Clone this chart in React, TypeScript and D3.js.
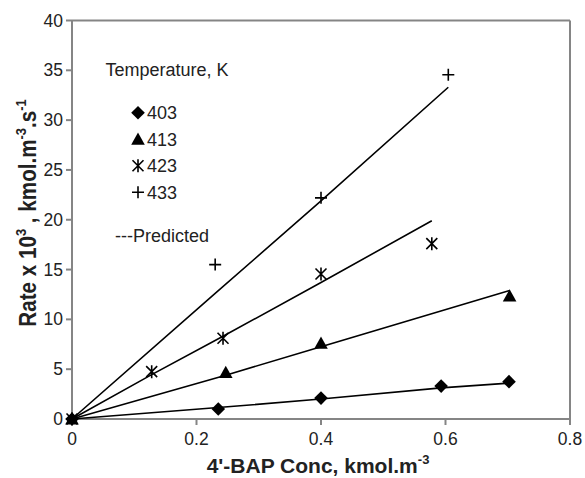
import React from "react";
import * as d3 from "d3";

const conc403 = [0, 0.235, 0.4, 0.593, 0.702];
const rate403 = [0, 1.0, 2.1, 3.3, 3.75];
const pred403 = [0, 1.15, 2.0, 3.12, 3.6];

const conc413 = [0, 0.247, 0.4, 0.703];
const rate413 = [0, 4.65, 7.6, 12.35];
const pred413 = [0, 4.4, 7.25, 12.9];

const conc423 = [0, 0.128, 0.2426, 0.4, 0.578];
const rate423 = [0, 4.75, 8.1, 14.55, 17.6];
const pred423 = [0, 4.45, 8.3, 13.7, 19.9];

const conc433 = [0, 0.23, 0.4, 0.6045];
const rate433 = [0, 15.5, 22.2, 34.55];
const pred433 = [0, 12.6, 21.9, 33.3];

const xTicks = [0, 0.2, 0.4, 0.6, 0.8];
const xTickLabels = ["0", "0.2", "0.4", "0.6", "0.8"];
const yTicks = [0, 5, 10, 15, 20, 25, 30, 35, 40];
const legendLabels = ["403", "413", "423", "433"];
const markerKinds = ["diamond", "triangle", "asterisk", "plus"];

const FONT = "'Liberation Sans', Arial, sans-serif";
const AXIS = "#858585";

function Marker({ kind, x, y }: { kind: string; x: number; y: number }) {
  if (kind === "diamond") {
    const s = 6.8;
    return <path d={`M${x},${y - s}L${x + s},${y}L${x},${y + s}L${x - s},${y}Z`} fill="#000" />;
  }
  if (kind === "triangle") {
    const s = 6.8;
    return <path d={`M${x},${y - s}L${x + s},${y + s * 0.8}L${x - s},${y + s * 0.8}Z`} fill="#000" />;
  }
  if (kind === "asterisk") {
    const s = 5.5;
    return (
      <path
        d={`M${x - s},${y - s}L${x + s},${y + s}M${x + s},${y - s}L${x - s},${y + s}M${x},${y - s - 1}L${x},${y + s + 1}`}
        stroke="#000"
        strokeWidth={1.6}
        fill="none"
      />
    );
  }
  const s = 6;
  return <path d={`M${x - s},${y}L${x + s},${y}M${x},${y - s}L${x},${y + s}`} stroke="#000" strokeWidth={1.6} fill="none" />;
}

export default function App() {
  const W = 585;
  const H = 478;
  const x = d3.scaleLinear().domain([0, 0.8]).range([72, 570]);
  const y = d3.scaleLinear().domain([0, 40]).range([419, 20.5]);

  const series = [
    { conc: conc403, rate: rate403, pred: pred403, kind: markerKinds[0] },
    { conc: conc413, rate: rate413, pred: pred413, kind: markerKinds[1] },
    { conc: conc423, rate: rate423, pred: pred423, kind: markerKinds[2] },
    { conc: conc433, rate: rate433, pred: pred433, kind: markerKinds[3] },
  ];

  const line = d3
    .line<[number, number]>()
    .x((d) => x(d[0]))
    .y((d) => y(d[1]));

  const legendY = [112.7, 139.3, 165.7, 192.3];

  return (
    <svg width={W} height={H} style={{ position: "absolute", left: 0, top: 0 }} fontFamily={FONT}>
      <rect x={0} y={0} width={W} height={H} fill="#fff" />
      {/* frame */}
      <line x1={x(0)} y1={y(40)} x2={x(0.8)} y2={y(40)} stroke={AXIS} strokeWidth={2} />
      <line x1={x(0.8)} y1={y(40)} x2={x(0.8)} y2={y(0)} stroke={AXIS} strokeWidth={2} />
      <line x1={x(0)} y1={y(0)} x2={x(0.8)} y2={y(0)} stroke={AXIS} strokeWidth={2} />
      <line x1={x(0)} y1={y(0)} x2={x(0)} y2={y(40)} stroke={AXIS} strokeWidth={2} />
      {yTicks.map((t) => (
        <g key={"y" + t}>
          <line x1={x(0) - 6} x2={x(0)} y1={y(t)} y2={y(t)} stroke={AXIS} strokeWidth={2} />
          <text x={63} y={y(t) + 6} textAnchor="end" fontSize={17.5} fill="#222">
            {t}
          </text>
        </g>
      ))}
      {xTicks.map((t, i) => (
        <g key={"x" + t}>
          <line x1={x(t)} x2={x(t)} y1={y(0)} y2={y(0) + 6} stroke={AXIS} strokeWidth={2} />
          <text x={x(t)} y={445} textAnchor="middle" fontSize={17.5} fill="#222">
            {xTickLabels[i]}
          </text>
        </g>
      ))}
      {/* predicted lines */}
      {series.map((s, i) => (
        <path
          key={"l" + i}
          d={line(s.conc.map((c, j) => [c, s.pred[j]] as [number, number])) || ""}
          fill="none"
          stroke="#000"
          strokeWidth={1.6}
        />
      ))}
      {/* markers */}
      {series.map((s, i) =>
        s.conc.map((c, j) => <Marker key={`m${i}-${j}`} kind={s.kind} x={x(c)} y={y(s.rate[j])} />)
      )}
      {/* legend */}
      <text x={105.5} y={76} fontSize={18} fill="#222">
        Temperature, K
      </text>
      {legendLabels.map((lab, i) => (
        <g key={"lg" + i}>
          <Marker kind={markerKinds[i]} x={138} y={legendY[i]} />
          <text x={147} y={legendY[i] + 6.5} fontSize={18} fill="#222">
            {lab}
          </text>
        </g>
      ))}
      <text x={115} y={242} fontSize={18} fill="#222">
        ---Predicted
      </text>
      {/* axis titles */}
      <text x={318} y={473} textAnchor="middle" fontSize={21} fontWeight="bold" fill="#222">
        4'-BAP Conc, kmol.m
        <tspan fontSize={13} dy={-9}>
          -3
        </tspan>
      </text>
      <text
        transform={`translate(36,213) rotate(-90) scale(0.86,1)`}
        textAnchor="middle"
        fontSize={24}
        fontWeight="bold"
        fill="#222"
      >
        Rate x 10
        <tspan fontSize={15} dy={-10}>
          3
        </tspan>
        <tspan dy={10}> , kmol.m</tspan>
        <tspan fontSize={15} dy={-10}>
          -3
        </tspan>
        <tspan dy={10}>.s</tspan>
        <tspan fontSize={15} dy={-10}>
          -1
        </tspan>
      </text>
    </svg>
  );
}
